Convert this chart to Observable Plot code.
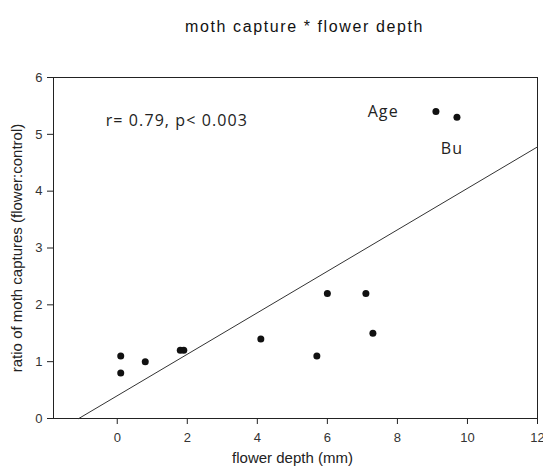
<!DOCTYPE html>
<html><head><meta charset="utf-8">
<script src="https://cdn.jsdelivr.net/npm/d3@7"></script>
<script src="https://cdn.jsdelivr.net/npm/@observablehq/plot@0.6"></script>
<style>
body{margin:0;background:#fff}
g[font-family^="Arial"] text{letter-spacing:1.6px}
g[font-family^="'Open Sans'"] text{letter-spacing:1.1px}
</style>
</head><body><div id="chart"></div>
<script>
const depth = [0.1, 0.1, 0.8, 1.8, 1.9, 4.1, 5.7, 6.0, 7.1, 7.3, 9.1, 9.7];
const ratio = [1.1, 0.8, 1.0, 1.2, 1.2, 1.4, 1.1, 2.2, 2.2, 1.5, 5.4, 5.3];
const xTicks = [0, 2, 4, 6, 8, 10, 12];
const yTicks = [0, 1, 2, 3, 4, 5, 6];
const noteText = ["r= 0.79, p< 0.003", "Age", "Bu"];
const noteX = [-0.33, 7.15, 9.24];
const noteY = [5.23, 5.40, 4.74];
const titleText = "moth capture * flower depth";
const xLabel = "flower depth (mm)";
const yLabel = "ratio of moth captures (flower:control)";

const pts = depth.map((d, i) => ({x: d, y: ratio[i]}));
const notes = noteText.map((t, i) => ({t, x: noteX[i], y: noteY[i]}));
// least-squares fit from the data
const mx = d3.mean(depth), my = d3.mean(ratio);
const slope = d3.sum(depth.map((d, i) => (d - mx) * (ratio[i] - my))) / d3.sum(depth.map(d => (d - mx) ** 2));
const icpt = my - slope * mx;
const xEnd = 12;
const fit = [{x: -icpt / slope, y: 0}, {x: xEnd, y: icpt + slope * xEnd}];

const chart = Plot.plot({
  width: 543, height: 473,
  marginLeft: 53, marginRight: 6, marginTop: 77, marginBottom: 55,
  style: {fontFamily: "'Liberation Sans', Arial, sans-serif", fontSize: "13px", color: "#333", background: "#fff"},
  x: {domain: [-1.82, 12], ticks: xTicks},
  y: {domain: [0, 6], ticks: yTicks},
  marks: [
    Plot.frame({stroke: "#222", strokeWidth: 1}),
    Plot.axisX({ticks: xTicks, tickSize: 6, tickPadding: 8, fontSize: 13, label: null, stroke: "#222", fill: "#333"}),
    Plot.axisY({ticks: yTicks, tickSize: 6, tickPadding: 5, fontSize: 13, tickFormat: "d", label: null, stroke: "#222", fill: "#333"}),
    Plot.text([xLabel], {frameAnchor: "bottom", dx: -3, dy: 44, fontSize: 15, fill: "#222"}),
    Plot.text([yLabel], {frameAnchor: "left", textAnchor: "middle", dx: -36, rotate: -90, fontSize: 15, fill: "#222"}),
    Plot.text([titleText], {frameAnchor: "top", dx: 9, dy: -57, fontSize: 16, fontFamily: "Arial, 'Liberation Sans', sans-serif", fill: "#111"}),
    Plot.line(fit, {x: "x", y: "y", stroke: "#333", strokeWidth: 1}),
    Plot.dot(pts, {x: "x", y: "y", r: 3.5, fill: "#111", stroke: "none"}),
    Plot.text(notes, {x: "x", y: "y", text: "t", textAnchor: "start", fontFamily: "'Open Sans', Lato, sans-serif", fontSize: 16, fill: "#222"})
  ]
});
document.getElementById("chart").append(chart);
</script>
</body></html>
